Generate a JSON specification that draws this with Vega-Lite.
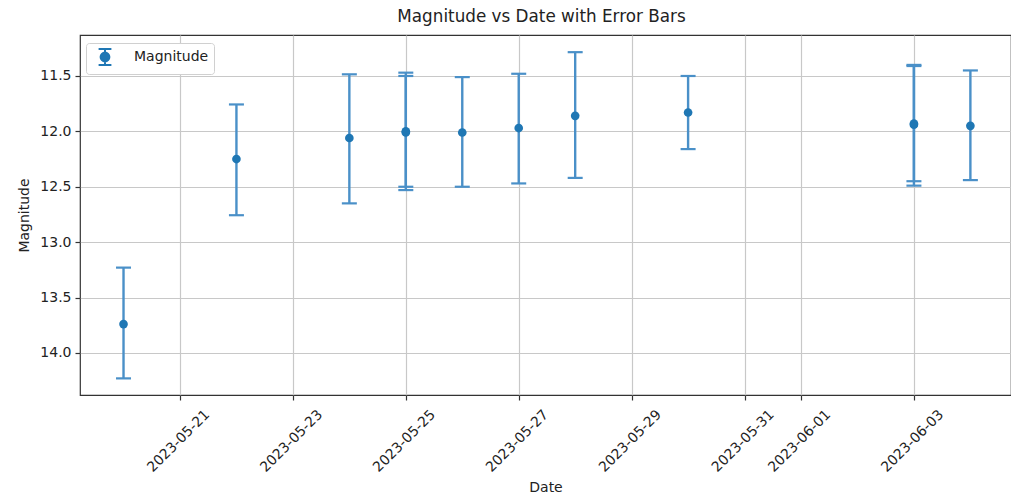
{
  "$schema": "https://vega.github.io/schema/vega-lite/v6.json",
  "autosize": {"type": "none"},
  "padding": {"left": 80, "top": 35, "right": 0, "bottom": 106},
  "width": 931,
  "height": 360,
  "background": "white",
  "config": {
    "font": "DejaVu Sans",
    "view": {"stroke": "#333333", "strokeWidth": 1.2},
    "axis": {
      "domain": false,
      "grid": true,
      "gridColor": "#c8c8c8",
      "gridWidth": 1.2,
      "tickColor": "#333333",
      "tickSize": 5,
      "tickWidth": 1.2,
      "labelFont": "DejaVu Sans",
      "labelFontSize": 14,
      "labelColor": "#222222",
      "titleFont": "DejaVu Sans",
      "titleFontSize": 14,
      "titleFontWeight": "normal",
      "titleColor": "#222222"
    }
  },
  "title": {
    "text": "Magnitude vs Date with Error Bars",
    "font": "DejaVu Sans",
    "fontSize": 16.8,
    "fontWeight": "normal",
    "color": "#222222",
    "anchor": "middle",
    "dx": -4,
    "offset": 9
  },
  "data": {
    "values": [
      {"date": "2023-05-20", "magnitude": 13.74, "lower": 13.23, "upper": 14.23},
      {"date": "2023-05-22", "magnitude": 12.25, "lower": 11.757, "upper": 12.757},
      {"date": "2023-05-24", "magnitude": 12.06, "lower": 11.485, "upper": 12.65},
      {"date": "2023-05-25", "magnitude": 12.0, "lower": 11.47, "upper": 12.53},
      {"date": "2023-05-25", "magnitude": 12.01, "lower": 11.5, "upper": 12.5},
      {"date": "2023-05-26", "magnitude": 12.01, "lower": 11.51, "upper": 12.5},
      {"date": "2023-05-27", "magnitude": 11.97, "lower": 11.48, "upper": 12.47},
      {"date": "2023-05-28", "magnitude": 11.86, "lower": 11.285, "upper": 12.42},
      {"date": "2023-05-30", "magnitude": 11.83, "lower": 11.5, "upper": 12.16},
      {"date": "2023-06-03", "magnitude": 11.94, "lower": 11.4, "upper": 12.49},
      {"date": "2023-06-03", "magnitude": 11.93, "lower": 11.41, "upper": 12.45},
      {"date": "2023-06-04", "magnitude": 11.95, "lower": 11.45, "upper": 12.44}
    ]
  },
  "encoding": {
    "x": {
      "field": "date",
      "type": "temporal",
      "title": "Date",
      "scale": {
        "type": "utc",
        "domain": [
          {"year": 2023, "month": 5, "date": 19, "hours": 5, "minutes": 30, "utc": true},
          {"year": 2023, "month": 6, "date": 4, "hours": 17, "minutes": 16, "utc": true}
        ]
      },
      "axis": {
        "values": [
          {"year": 2023, "month": 5, "date": 21, "utc": true},
          {"year": 2023, "month": 5, "date": 23, "utc": true},
          {"year": 2023, "month": 5, "date": 25, "utc": true},
          {"year": 2023, "month": 5, "date": 27, "utc": true},
          {"year": 2023, "month": 5, "date": 29, "utc": true},
          {"year": 2023, "month": 5, "date": 31, "utc": true},
          {"year": 2023, "month": 6, "date": 1, "utc": true},
          {"year": 2023, "month": 6, "date": 3, "utc": true}
        ],
        "labelExpr": "utcFormat(datum.value, '%Y-%m-%d')",
        "labelAngle": -45,
        "labelAlign": "right",
        "labelBaseline": "middle",
        "labelOffset": 27,
        "labelPadding": 12,
        "labelOverlap": false,
        "labelFlush": false,
        "titlePadding": 6
      }
    }
  },
  "layer": [
    {
      "mark": {"type": "rule", "color": "#4a90c8", "opacity": 1, "strokeWidth": 2.4},
      "encoding": {
        "y": {
          "field": "lower",
          "type": "quantitative",
          "title": "Magnitude",
          "scale": {"domain": [11.13, 14.38], "reverse": true, "nice": false, "zero": false},
          "axis": {
            "values": [11.5, 12.0, 12.5, 13.0, 13.5, 14.0],
            "format": ".1f",
            "labelPadding": 4,
            "titlePadding": 8
          }
        },
        "y2": {"field": "upper"}
      }
    },
    {
      "mark": {"type": "tick", "orient": "horizontal", "color": "#4a90c8", "opacity": 1, "size": 15, "thickness": 2.2},
      "encoding": {"y": {"field": "lower", "type": "quantitative"}}
    },
    {
      "mark": {"type": "tick", "orient": "horizontal", "color": "#4a90c8", "opacity": 1, "size": 15, "thickness": 2.2},
      "encoding": {"y": {"field": "upper", "type": "quantitative"}}
    },
    {
      "mark": {"type": "point", "filled": true, "opacity": 1, "size": 75},
      "encoding": {
        "y": {"field": "magnitude", "type": "quantitative"},
        "color": {
          "datum": "Magnitude",
          "scale": {"range": ["#1f77b4"]},
          "legend": {
            "title": null,
            "orient": "none",
            "legendX": 6,
            "legendY": 8,
            "padding": 5,
            "symbolOffset": 5,
            "symbolType": "M-0.8,-1H0.8M0,-1V1M-0.8,1H0.8M-0.55,0A0.55,0.55,0,1,1,0.55,0A0.55,0.55,0,1,1,-0.55,0Z",
            "symbolSize": 256,
            "symbolStrokeWidth": 2,
            "symbolOpacity": 1,
            "labelOffset": 20,
            "labelFontSize": 14,
            "labelFont": "DejaVu Sans",
            "labelColor": "#222222",
            "fillColor": "white",
            "strokeColor": "#d0d0d0",
            "cornerRadius": 3,
            "encode": {
              "symbols": {
                "update": {
                  "stroke": {"value": "#1f77b4"},
                  "fill": {"value": "#1f77b4"},
                  "strokeWidth": {"value": 2}
                }
              }
            }
          }
        }
      }
    }
  ]
}
